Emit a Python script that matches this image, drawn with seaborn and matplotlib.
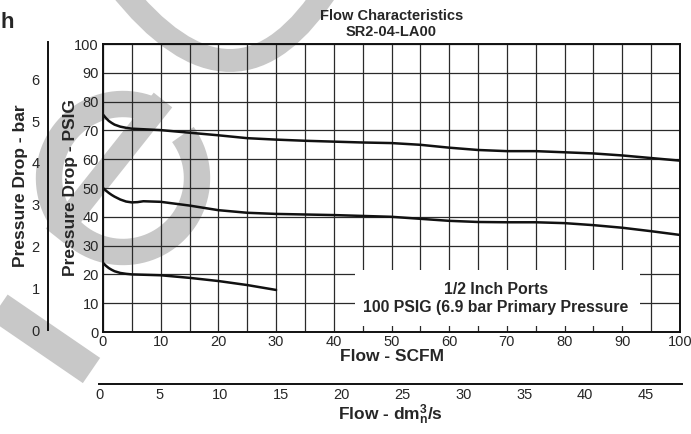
import numpy as np
import pandas as pd
import seaborn as sns
import matplotlib.pyplot as plt
from matplotlib.patches import Rectangle, PathPatch
from matplotlib.path import Path

sns.set_style("white")
plt.rcParams['font.family'] = ['Liberation Sans', 'DejaVu Sans']
plt.rcParams['mathtext.fontset'] = 'custom'
plt.rcParams['mathtext.rm'] = 'Liberation Sans:bold'
plt.rcParams['mathtext.it'] = 'Liberation Sans:bold'
plt.rcParams['mathtext.bf'] = 'Liberation Sans:bold'

# curves (flow in SCFM, pressure drop in PSIG)
flow_high = [0, 0.5, 1, 1.5, 2, 3, 4, 5, 10, 15, 20, 25, 30, 35, 40, 45, 50, 55, 60, 65, 70, 75, 80, 85, 90, 95, 100]
psig_high = [75.5, 74.3, 73.3, 72.6, 72.0, 71.3, 70.9, 70.6, 70.1, 69.2, 68.3, 67.3, 66.8, 66.4, 66.1, 65.8,
             65.6, 65.0, 64.0, 63.2, 62.8, 62.8, 62.4, 62.0, 61.3, 60.4, 59.5]
flow_mid = [0, 0.5, 1, 1.5, 2, 3, 4, 5, 6, 7, 10, 15, 20, 25, 30, 35, 40, 45, 50, 55, 60, 65, 70, 75, 80,
            85, 90, 95, 100]
psig_mid = [50.0, 49.1, 48.3, 47.6, 47.0, 46.0, 45.3, 45.0, 45.1, 45.4, 45.2, 43.9, 42.3, 41.4, 41.0, 40.8,
            40.6, 40.3, 40.0, 39.3, 38.6, 38.2, 38.1, 38.1, 37.8, 37.1, 36.2, 35.0, 33.7]
flow_low = [0, 0.5, 1, 1.5, 2, 3, 4, 5, 10, 15, 20, 25, 30]
psig_low = [24.0, 23.0, 22.2, 21.6, 21.1, 20.5, 20.2, 20.0, 19.7, 18.8, 17.7, 16.3, 14.6]

psig_ticks = list(range(0, 101, 10))
scfm_ticks = list(range(0, 101, 10))
bar_ticks = [0, 1, 2, 3, 4, 5, 6]
dm3_ticks = [0, 5, 10, 15, 20, 25, 30, 35, 40, 45]
PSI_PER_BAR = 14.5

df = pd.concat([
    pd.DataFrame({"flow": flow_high, "psig": psig_high, "curve": "high"}),
    pd.DataFrame({"flow": flow_mid, "psig": psig_mid, "curve": "mid"}),
    pd.DataFrame({"flow": flow_low, "psig": psig_low, "curve": "low"}),
])

W, H = 691, 434


def rect(l, t, r, b):
    return [l / W, 1 - b / H, (r - l) / W, (b - t) / H]


fig = plt.figure(figsize=(W / 100, H / 100), dpi=100)

# light grey logo swoosh behind the chart
bg = fig.add_axes([0, 0, 1, 1], zorder=0)
bg.set_xlim(0, W)
bg.set_ylim(H, 0)
bg.axis('off')
grey = '#c8c8c8'
v = Path([(118, -15), (236, 136), (330, -15)], [Path.MOVETO, Path.CURVE3, Path.CURVE3])
bg.add_patch(PathPatch(v, fill=False, edgecolor=grey, lw=16.5, capstyle='butt'))
th = np.radians(np.linspace(64, 396, 200))
bg.plot(123 + 74 * np.cos(th), 178 - 74 * np.sin(th), color=grey, lw=19, solid_capstyle='butt')
bg.plot([163, 55], [100, 236], color=grey, lw=17, solid_capstyle='butt')
bg.plot([-10, 91.5], [301, 370.5], color=grey, lw=22, solid_capstyle='butt')
bg.text(0, 28, 'h', fontsize=16, fontweight='bold', ha='left', va='baseline')

# main chart
ax = fig.add_axes(rect(103, 44, 680, 332), zorder=2)
ax.patch.set_alpha(0)
sns.lineplot(data=df, x="flow", y="psig", units="curve", estimator=None, sort=False,
             color='#111111', lw=1.8, ax=ax, legend=False, zorder=4)
ax.set_xlim(0, 100)
ax.set_ylim(0, 100)
ax.set_xticks(scfm_ticks)
ax.set_xticks(range(0, 101, 5), minor=True)
ax.set_yticks(psig_ticks)
ax.grid(axis='x', which='both', color='#2a2a2a', lw=0.9)
ax.grid(axis='y', which='major', color='#2a2a2a', lw=0.9)
ax.tick_params(axis='both', which='both', direction='in', length=0, labelsize=10.5)
ax.tick_params(axis='x', pad=2)
ax.tick_params(axis='y', pad=3)
for s in ax.spines.values():
    s.set_color('#111111')
    s.set_linewidth(1.4)
ax.set_xlabel('Flow - SCFM', fontsize=12.5, fontweight='bold')
ax.xaxis.set_label_coords(0.5, -0.085)
ax.xaxis.label.set_va('center')
ax.set_ylabel('Pressure Drop - PSIG', fontsize=12.5, fontweight='bold')
ax.yaxis.set_label_coords(-0.057, 0.5)
ax.yaxis.label.set_va('center')
ax.set_title('Flow Characteristics\nSR2-04-LA00', fontsize=10.5, fontweight='bold', pad=6, linespacing=1.15)

ax.add_patch(Rectangle((43.7, 2.1), 49.4, 19.4, facecolor='white', edgecolor='none', zorder=3))
ax.text(68.1, 11.8, '1/2 Inch Ports\n100 PSIG (6.9 bar Primary Pressure', ha='center', va='center',
        fontsize=11.4, fontweight='bold', linespacing=1.25, zorder=5)

# bar scale on the far left
axb = fig.add_axes(rect(48, 42, 100, 330), zorder=1)
axb.patch.set_alpha(0)
axb.set_ylim(0, 100 / PSI_PER_BAR)
axb.set_yticks(bar_ticks)
axb.set_xticks([])
for k in ['top', 'right', 'bottom']:
    axb.spines[k].set_visible(False)
axb.spines['left'].set_linewidth(1.4)
axb.spines['left'].set_color('#111111')
axb.tick_params(axis='y', direction='out', length=4, width=1, pad=2, labelsize=10.5)
axb.set_ylabel('Pressure Drop - bar', fontsize=12.5, fontweight='bold')
axb.yaxis.set_label_coords((20 - 48) / 52, 0.5)
axb.yaxis.label.set_va('center')

# dm3/s scale below
axd = fig.add_axes(rect(99, 374, 682, 384), zorder=1)
axd.patch.set_alpha(0)
axd.set_xlim(0, 48)
axd.set_xticks(dm3_ticks)
axd.set_yticks([])
for k in ['top', 'right', 'left']:
    axd.spines[k].set_visible(False)
axd.spines['bottom'].set_linewidth(1.4)
axd.spines['bottom'].set_color('#111111')
axd.tick_params(axis='x', direction='in', length=4, width=1, pad=3, labelsize=10.5)
axd.set_xlabel(r'Flow - dm$^{3}_{n}$/s', fontsize=12.5, fontweight='bold')
axd.xaxis.set_label_coords(0.5, -3.1)
axd.xaxis.label.set_va('center')

fig.savefig('out.png', dpi=100)
